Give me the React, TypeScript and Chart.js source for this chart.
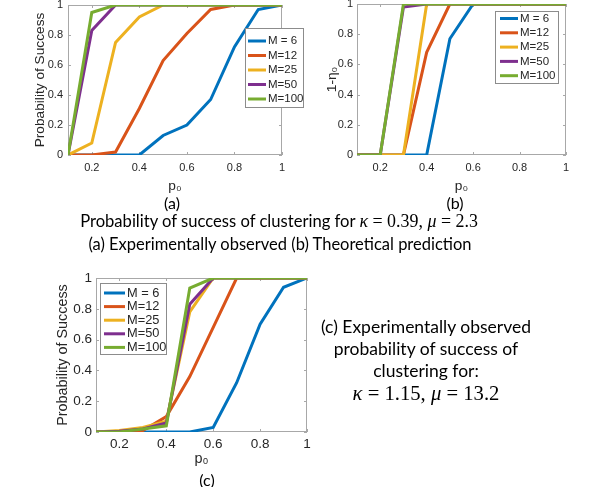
import React, { useEffect, useRef } from "react";
import { Chart, registerables } from "chart.js";
Chart.register(...registerables);

const P0 = [0.1, 0.2, 0.3, 0.4, 0.5, 0.6, 0.7, 0.8, 0.9, 1.0];
const SERIES_LABELS = ["M = 6", "M=12", "M=25", "M=50", "M=100"];
const SERIES_COLORS = ["#0072BD", "#D95319", "#EDB120", "#7E2F8E", "#77AC30"];
const X_TICKS = [0.2, 0.4, 0.6, 0.8, 1];
const Y_TICKS = [0, 0.2, 0.4, 0.6, 0.8, 1];

// (a) Experimentally observed, kappa=0.39, mu=2.3
const A_M6 = [0, 0, 0, 0, 0.13, 0.2, 0.37, 0.72, 0.97, 1];
const A_M12 = [0, 0, 0.02, 0.31, 0.63, 0.81, 0.97, 1, 1, 1];
const A_M25 = [0, 0.08, 0.75, 0.92, 1, 1, 1, 1, 1, 1];
const A_M50 = [0, 0.83, 1, 1, 1, 1, 1, 1, 1, 1];
const A_M100 = [0, 0.95, 1, 1, 1, 1, 1, 1, 1, 1];

// (b) Theoretical prediction
const B_M6 = [0, 0, 0, 0, 0.77, 1, 1, 1, 1, 1];
const B_M12 = [0, 0, 0, 0.68, 1, 1, 1, 1, 1, 1];
const B_M25 = [0, 0, 0, 1, 1, 1, 1, 1, 1, 1];
const B_M50 = [0, 0, 0.98, 1, 1, 1, 1, 1, 1, 1];
const B_M100 = [0, 0, 1, 1, 1, 1, 1, 1, 1, 1];

// (c) Experimentally observed, kappa=1.15, mu=13.2
const C_M6 = [0, 0, 0, 0, 0, 0.03, 0.32, 0.7, 0.94, 1];
const C_M12 = [0, 0, 0.01, 0.1, 0.36, 0.68, 1, 1, 1, 1];
const C_M25 = [0, 0.01, 0.03, 0.07, 0.78, 1, 1, 1, 1, 1];
const C_M50 = [0, 0.005, 0.02, 0.058, 0.83, 1, 1, 1, 1, 1];
const C_M100 = [0, 0, 0.02, 0.04, 0.935, 1, 1, 1, 1, 1];

const AX_FONT = "'Liberation Sans', Arial, 'DejaVu Sans', sans-serif";
const TEXT_COLOR = "#262626";
const FRAME_COLOR = "#a8a8a8";

type Box = { l: number; t: number; r: number; b: number };
type Leg = { x: number; y: number; w: number; h: number; row0: number; step: number; l0: number; l1: number; tx: number };

type PanelProps = {
  series: number[][];
  cx: number; cy: number; cw: number; ch: number;
  area: Box;
  yTitle: string;
  yTitleX: number;
  xTitleY: number;
  legend: Leg;
  tickFont: number;
  titleFont: number;
  legendFont: number;
  yTickPad: number;
  xTickPad: number;
};

function Panel(p: PanelProps) {
  const ref = useRef<HTMLCanvasElement | null>(null);
  useEffect(() => {
    if (!ref.current) return;
    const aL = p.area.l - p.cx, aT = p.area.t - p.cy, aR = p.area.r - p.cx, aB = p.area.b - p.cy;
    const titleLH = p.titleFont * 1.2;
    const framePlugin = {
      id: "matlabFrame",
      beforeDatasetsDraw(chart: any) {
        const { ctx, chartArea: ca, scales } = chart;
        ctx.save();
        ctx.strokeStyle = FRAME_COLOR;
        ctx.lineWidth = 1;
        ctx.strokeRect(Math.round(ca.left) + 0.5, Math.round(ca.top) + 0.5, Math.round(ca.right - ca.left) - 1, Math.round(ca.bottom - ca.top) - 1);
        const tl = 3;
        ctx.beginPath();
        Y_TICKS.forEach((v) => {
          const y = Math.round(scales.y.getPixelForValue(v)) + 0.5;
          ctx.moveTo(ca.left, y); ctx.lineTo(ca.left + tl, y);
          ctx.moveTo(ca.right, y); ctx.lineTo(ca.right - tl, y);
        });
        X_TICKS.forEach((v) => {
          const x = Math.round(scales.x.getPixelForValue(v)) + 0.5;
          ctx.moveTo(x, ca.bottom); ctx.lineTo(x, ca.bottom - tl);
          ctx.moveTo(x, ca.top); ctx.lineTo(x, ca.top + tl);
        });
        ctx.stroke();
        ctx.restore();
      },
      afterDraw(chart: any) {
        const { ctx } = chart;
        const L = p.legend;
        const x = L.x - p.cx, y = L.y - p.cy;
        ctx.save();
        ctx.fillStyle = "#ffffff";
        ctx.fillRect(x, y, L.w, L.h);
        ctx.strokeStyle = "#8c8c8c";
        ctx.lineWidth = 1;
        ctx.strokeRect(x + 0.5, y + 0.5, L.w - 1, L.h - 1);
        chart.data.datasets.forEach((ds: any, i: number) => {
          const ry = L.row0 - p.cy + i * L.step;
          ctx.strokeStyle = ds.borderColor;
          ctx.lineWidth = 3;
          ctx.beginPath();
          ctx.moveTo(L.l0 - p.cx, ry);
          ctx.lineTo(L.l1 - p.cx, ry);
          ctx.stroke();
          ctx.fillStyle = TEXT_COLOR;
          ctx.font = `${p.legendFont}px ${AX_FONT}`;
          ctx.textBaseline = "middle";
          ctx.textAlign = "left";
          ctx.fillText(ds.label, L.tx - p.cx, ry);
        });
        ctx.restore();
      },
    };
    const chart = new Chart(ref.current, {
      type: "line",
      data: {
        datasets: p.series.map((vals, i) => ({
          label: SERIES_LABELS[i],
          data: P0.map((x, j) => ({ x, y: vals[j] })),
          borderColor: SERIES_COLORS[i],
          backgroundColor: SERIES_COLORS[i],
          borderWidth: 3,
          pointRadius: 0,
          tension: 0,
          fill: false,
          order: p.series.length - i,
        })),
      },
      options: {
        animation: false,
        responsive: false,
        maintainAspectRatio: false,
        devicePixelRatio: 1,
        layout: { padding: { left: 0, top: aT, right: p.cw - aR, bottom: 0 } },
        plugins: { legend: { display: false }, tooltip: { enabled: false } },
        scales: {
          x: {
            type: "linear",
            min: 0.1,
            max: 1,
            grid: { display: false, drawTicks: false },
            border: { display: false },
            afterBuildTicks: (s: any) => { s.ticks = X_TICKS.map((v) => ({ value: v })); },
            afterFit: (s: any) => {
              s.height = p.ch - aB;
              s.paddingLeft = 0; s.paddingRight = 0; s.paddingTop = 0; s.paddingBottom = 0;
            },
            ticks: {
              padding: p.xTickPad,
              color: TEXT_COLOR,
              font: { family: AX_FONT, size: p.tickFont },
              maxRotation: 0,
              autoSkip: false,
              callback: (v: any) => String(Math.round(Number(v) * 10) / 10),
            },
            title: {
              display: true,
              text: "p₀",
              color: TEXT_COLOR,
              font: { family: AX_FONT, size: p.titleFont },
              padding: { top: 0, bottom: Math.max(0, p.cy + p.ch - p.xTitleY - titleLH / 2) },
            },
          },
          y: {
            type: "linear",
            min: 0,
            max: 1,
            grid: { display: false, drawTicks: false },
            border: { display: false },
            afterBuildTicks: (s: any) => { s.ticks = Y_TICKS.map((v) => ({ value: v })); },
            afterFit: (s: any) => {
              s.width = aL;
              s.paddingLeft = 0; s.paddingRight = 0; s.paddingTop = 0; s.paddingBottom = 0;
            },
            ticks: {
              padding: p.yTickPad,
              color: TEXT_COLOR,
              font: { family: AX_FONT, size: p.tickFont },
              autoSkip: false,
              callback: (v: any) => String(Math.round(Number(v) * 10) / 10),
            },
            title: {
              display: true,
              text: p.yTitle,
              color: TEXT_COLOR,
              font: { family: AX_FONT, size: p.titleFont },
              padding: { top: p.yTitleX - p.cx - titleLH / 2, bottom: 0 },
            },
          },
        },
      },
      plugins: [framePlugin],
    } as any);
    return () => chart.destroy();
  }, []);
  return (
    <canvas
      ref={ref}
      width={p.cw}
      height={p.ch}
      style={{ position: "absolute", left: p.cx, top: p.cy, width: p.cw, height: p.ch }}
    />
  );
}

const CAP_FONT = "Lato, 'Open Sans', sans-serif";
const MATH_FONT = "'Liberation Serif', 'DejaVu Serif', serif";

function Label({ x, y, children, size = 16 }: { x: number; y: number; children: React.ReactNode; size?: number }) {
  return (
    <div
      style={{
        position: "absolute",
        left: x - 300,
        top: y - size * 0.65,
        width: 600,
        textAlign: "center",
        fontFamily: CAP_FONT,
        fontSize: size,
        lineHeight: `${size * 1.3}px`,
        color: "#000",
        whiteSpace: "nowrap",
      }}
    >
      {children}
    </div>
  );
}

function M({ children, scale = 1.08 }: { children: React.ReactNode; scale?: number }) {
  return <span style={{ fontFamily: MATH_FONT, fontSize: `${scale}em` }}>{children}</span>;
}
function I({ children }: { children: React.ReactNode }) {
  return <span style={{ fontStyle: "italic" }}>{children}</span>;
}

export default function App() {
  return (
    <div style={{ position: "absolute", left: 0, top: 0, width: 600, height: 487, background: "#fff", overflow: "hidden" }}>
      <Panel
        series={[A_M6, A_M12, A_M25, A_M50, A_M100]}
        cx={0} cy={0} cw={310} ch={196}
        area={{ l: 68, t: 5, r: 282, b: 155 }}
        yTitle="Probability of Success" yTitleX={40} xTitleY={186}
        legend={{ x: 245, y: 28, w: 59, h: 80, row0: 41, step: 14.5, l0: 248, l1: 266, tx: 268 }}
        tickFont={11} titleFont={13.7} legendFont={11.5} yTickPad={5} xTickPad={6}
      />
      <Panel
        series={[B_M6, B_M12, B_M25, B_M50, B_M100]}
        cx={300} cy={0} cw={300} ch={196}
        area={{ l: 357, t: 4, r: 566, b: 155 }}
        yTitle="1-η₀" yTitleX={332} xTitleY={186}
        legend={{ x: 495, y: 11, w: 64, h: 73, row0: 18.5, step: 14.3, l0: 500, l1: 518, tx: 520 }}
        tickFont={11} titleFont={13.7} legendFont={11.5} yTickPad={4} xTickPad={6}
      />
      <Panel
        series={[C_M6, C_M12, C_M25, C_M50, C_M100]}
        cx={0} cy={262} cw={320} ch={210}
        area={{ l: 96, t: 278, r: 307, b: 432 }}
        yTitle="Probability of Success" yTitleX={63} xTitleY={459}
        legend={{ x: 100, y: 283, w: 67, h: 72, row0: 293, step: 13.6, l0: 104, l1: 125, tx: 127 }}
        tickFont={13.5} titleFont={14.4} legendFont={12.8} yTickPad={4} xTickPad={4}
      />
      <Label x={172} y={203}>(a)</Label>
      <Label x={455} y={203}>(b)</Label>
      <Label x={207} y={480}>(c)</Label>
      <Label x={279} y={222} size={16.6}>
        Probability of success of clustering for <M><I>κ</I> = 0.39, <I>μ</I> = 2.3</M>
      </Label>
      <Label x={280} y={245} size={16.5}>(a) Experimentally observed (b) Theoretical prediction</Label>
      <Label x={426} y={327} size={17.5}>(c) Experimentally observed</Label>
      <Label x={426} y={349} size={17.5}>probability of success of</Label>
      <Label x={426} y={371} size={17.5}>clustering for:</Label>
      <Label x={426} y={393} size={17.5}>
        <M scale={1.18}><I>κ</I> = 1.15, <I>μ</I> = 13.2</M>
      </Label>
    </div>
  );
}
